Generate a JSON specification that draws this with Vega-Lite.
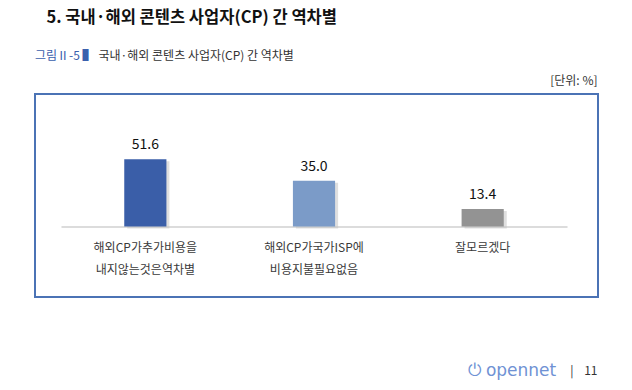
{
  "$schema": "https://vega.github.io/schema/vega-lite/v6.json",
  "width": 563,
  "height": 203,
  "autosize": {"type": "none"},
  "padding": {"left": 35, "top": 94, "right": 34, "bottom": 93},
  "background": "white",
  "config": {
    "view": {"stroke": "#4b73b5", "strokeWidth": 2},
    "font": "Noto Sans CJK KR",
    "axis": {"grid": false}
  },
  "title": {
    "text": "그림Ⅱ-5 ▌",
    "anchor": "start",
    "frame": "group",
    "offset": -54,
    "font": "Noto Sans CJK KR",
    "fontSize": 12,
    "fontWeight": "normal",
    "color": "#3a60ad"
  },
  "data": {
    "values": [
      {"category": "해외CP가추가비용을 내지않는것은역차별", "value": 51.6},
      {"category": "해외CP가국가ISP에 비용지불필요없음", "value": 35.0},
      {"category": "잘모르겠다", "value": 13.4}
    ]
  },
  "layer": [
    {
      "mark": {"type": "bar", "color": "#c4c4c4", "opacity": 0.55, "xOffset": 3, "yOffset": 2, "y2Offset": 2},
      "encoding": {
        "x": {"field": "category", "type": "nominal", "sort": null, "axis": null,
              "scale": {"range": [26, 532], "paddingInner": 0.75, "paddingOuter": 0.375}},
        "y": {"field": "value", "type": "quantitative",
              "scale": {"domain": [-54, 101.5], "nice": false},
              "axis": {
                "orient": "left", "labels": false, "ticks": false, "domain": false, "grid": false,
                "title": "5. 국내·해외 콘텐츠 사업자(CP) 간 역차별",
                "titleAngle": 0, "titleX": 11, "titleY": -77,
                "titleAlign": "left", "titleBaseline": "middle",
                "titleFontSize": 16.5, "titleFontWeight": "bold", "titleColor": "#111111",
                "titleFont": "Noto Sans CJK KR"
              }},
        "y2": {"datum": 0}
      }
    },
    {
      "mark": {"type": "bar"},
      "encoding": {
        "x": {"field": "category", "type": "nominal", "sort": null,
              "scale": {"range": [26, 532], "paddingInner": 0.75, "paddingOuter": 0.375},
              "axis": {
                "orient": "bottom", "offset": -70.5,
                "domainColor": "#dcdcdc", "domainWidth": 2,
                "ticks": false,
                "labelExpr": "split(datum.label, ' ')",
                "labelFont": "Noto Sans CJK KR", "labelFontSize": 12, "labelColor": "#3a3a3a",
                "labelLineHeight": 21.6, "labelPadding": 16, "labelBaseline": "top",
                "labelAngle": 0, "labelLimit": 0,
                "title": "|\u00a0\u00a0\u00a0\u00a011", "titleX": 562, "titleY": 143.5,
                "titleAlign": "right", "titleBaseline": "middle",
                "titleFontSize": 12, "titleFontWeight": "normal", "titleColor": "#333333",
                "titleFont": "Noto Sans CJK KR"
              }},
        "y": {"field": "value", "type": "quantitative",
              "scale": {"domain": [-54, 101.5], "nice": false},
              "axis": {
                "orient": "left", "labels": false, "ticks": false, "domain": false, "grid": false,
                "title": "국내·해외 콘텐츠 사업자(CP) 간 역차별",
                "titleAngle": 0, "titleX": 63, "titleY": -39,
                "titleAlign": "left", "titleBaseline": "middle",
                "titleFontSize": 12, "titleFontWeight": "normal", "titleColor": "#333333",
                "titleFont": "Noto Sans CJK KR"
              }},
        "y2": {"datum": 0},
        "color": {"field": "category", "type": "nominal", "legend": null,
                  "scale": {"domain": ["해외CP가추가비용을 내지않는것은역차별", "해외CP가국가ISP에 비용지불필요없음", "잘모르겠다"],
                            "range": ["#3a5ea8", "#7b9bc8", "#939393"]}}
      }
    },
    {
      "mark": {"type": "text", "dy": -14, "baseline": "middle", "fontSize": 14, "font": "Noto Sans CJK KR", "color": "#111111"},
      "encoding": {
        "x": {"field": "category", "type": "nominal", "sort": null,
              "scale": {"range": [26, 532], "paddingInner": 0.75, "paddingOuter": 0.375},
              "axis": {
                "orient": "top", "labels": false, "ticks": false, "domain": false,
                "title": "⏻ opennet", "titleX": 432, "titleY": 276,
                "titleAlign": "left", "titleBaseline": "middle",
                "titleFontSize": 17, "titleFontWeight": "normal", "titleColor": "#6f92d4",
                "titleFont": "DejaVu Sans"
              }},
        "y": {"field": "value", "type": "quantitative",
              "scale": {"domain": [-54, 101.5], "nice": false},
              "axis": {
                "orient": "right", "labels": false, "ticks": false, "domain": false, "grid": false,
                "title": "[단위: %]",
                "titleAngle": 0, "titleX": -1, "titleY": -14,
                "titleAlign": "right", "titleBaseline": "middle",
                "titleFontSize": 12, "titleFontWeight": "normal", "titleColor": "#333333",
                "titleFont": "Noto Sans CJK KR"
              }},
        "text": {"field": "value", "type": "quantitative", "format": ".1f"}
      }
    }
  ],
  "resolve": {"axis": {"x": "independent", "y": "independent"}}
}
